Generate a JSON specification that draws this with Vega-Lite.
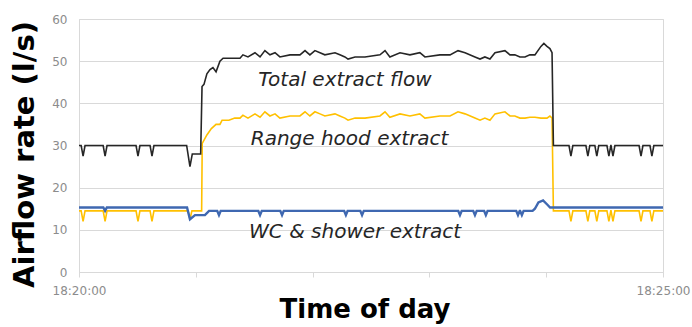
{
 "$schema": "https://vega.github.io/schema/vega-lite/v6.json",
 "width": 584, "height": 253,
 "autosize": {"type": "none"},
 "padding": {"left": 79, "top": 19, "right": 29, "bottom": 55},
 "background": "#ffffff",
 "config": {"font": "DejaVu Sans", "view": {"stroke": "#d9d9d9", "strokeWidth": 1}},
 "datasets": {
  "flows": [
   {"s":"T","t":0,"v":30},{"s":"T","t":1.1,"v":30},{"s":"T","t":2.1,"v":27.5},{"s":"T","t":3.1,"v":30},{"s":"T","t":12.4,"v":30},{"s":"T","t":13.4,"v":27.5},{"s":"T","t":14.4,"v":30},{"s":"T","t":29.3,"v":30},{"s":"T","t":30.3,"v":27.5},{"s":"T","t":31.3,"v":30},{"s":"T","t":36.5,"v":30},{"s":"T","t":37.5,"v":27.5},{"s":"T","t":38.5,"v":30},{"s":"T","t":55.3,"v":30},{"s":"T","t":57,"v":25},{"s":"T","t":58.2,"v":28},{"s":"T","t":62.5,"v":28},{"s":"T","t":63.2,"v":44},{"s":"T","t":64.2,"v":44.5},{"s":"T","t":65.7,"v":47},{"s":"T","t":67.3,"v":48},{"s":"T","t":68.8,"v":48.5},{"s":"T","t":70.4,"v":47.5},{"s":"T","t":72.4,"v":50},{"s":"T","t":74,"v":50.7},{"s":"T","t":82.7,"v":50.7},{"s":"T","t":84.2,"v":51.5},{"s":"T","t":86.8,"v":51},{"s":"T","t":90.4,"v":52},{"s":"T","t":93,"v":51},{"s":"T","t":95.5,"v":52.5},{"s":"T","t":98.1,"v":51.5},{"s":"T","t":100.7,"v":52},{"s":"T","t":103.2,"v":51},{"s":"T","t":108.4,"v":51.5},{"s":"T","t":113.5,"v":51.5},{"s":"T","t":116.1,"v":52.5},{"s":"T","t":118.6,"v":51.5},{"s":"T","t":121.2,"v":52.5},{"s":"T","t":123.8,"v":52},{"s":"T","t":126.3,"v":51.5},{"s":"T","t":131.5,"v":52},{"s":"T","t":134,"v":51.5},{"s":"T","t":136.6,"v":51},{"s":"T","t":138.2,"v":50.5},{"s":"T","t":141.8,"v":51},{"s":"T","t":146.9,"v":51},{"s":"T","t":154.6,"v":51.5},{"s":"T","t":157.2,"v":52.5},{"s":"T","t":159.7,"v":51},{"s":"T","t":164.9,"v":52},{"s":"T","t":170,"v":51.5},{"s":"T","t":175.1,"v":52},{"s":"T","t":177.7,"v":51},{"s":"T","t":185.4,"v":51.5},{"s":"T","t":190.6,"v":51.5},{"s":"T","t":194.7,"v":52.5},{"s":"T","t":198.3,"v":52},{"s":"T","t":203.4,"v":51},{"s":"T","t":206,"v":50.5},{"s":"T","t":208.5,"v":51},{"s":"T","t":211.1,"v":50.5},{"s":"T","t":213.7,"v":52},{"s":"T","t":218.8,"v":52.5},{"s":"T","t":221.4,"v":51.5},{"s":"T","t":223.9,"v":51.5},{"s":"T","t":226.5,"v":51},{"s":"T","t":229.1,"v":51},{"s":"T","t":231.6,"v":51.5},{"s":"T","t":234.2,"v":51.5},{"s":"T","t":237.3,"v":53.5},{"s":"T","t":238.8,"v":54.2},{"s":"T","t":240.4,"v":53.5},{"s":"T","t":241.9,"v":53},{"s":"T","t":243,"v":52},{"s":"T","t":243.7,"v":30},{"s":"T","t":251.7,"v":30},{"s":"T","t":252.7,"v":27.5},{"s":"T","t":253.7,"v":30},{"s":"T","t":260.4,"v":30},{"s":"T","t":261.4,"v":27.5},{"s":"T","t":262.4,"v":30},{"s":"T","t":265,"v":30},{"s":"T","t":266,"v":27.5},{"s":"T","t":267,"v":30},{"s":"T","t":271.2,"v":30},{"s":"T","t":272.2,"v":27.5},{"s":"T","t":273.2,"v":30},{"s":"T","t":273.3,"v":30},{"s":"T","t":274.3,"v":27.5},{"s":"T","t":275.3,"v":30},{"s":"T","t":287.7,"v":30},{"s":"T","t":288.7,"v":27.5},{"s":"T","t":289.7,"v":30},{"s":"T","t":293.3,"v":30},{"s":"T","t":294.3,"v":27.5},{"s":"T","t":295.3,"v":30},{"s":"T","t":300,"v":30},

   {"s":"R","t":0,"v":14.5},{"s":"R","t":1.1,"v":14.5},{"s":"R","t":2.1,"v":12},{"s":"R","t":3.1,"v":14.5},{"s":"R","t":12.4,"v":14.5},{"s":"R","t":13.4,"v":12},{"s":"R","t":14.4,"v":14.5},{"s":"R","t":29.3,"v":14.5},{"s":"R","t":30.3,"v":12},{"s":"R","t":31.3,"v":14.5},{"s":"R","t":36.5,"v":14.5},{"s":"R","t":37.5,"v":12},{"s":"R","t":38.5,"v":14.5},{"s":"R","t":56,"v":14.5},{"s":"R","t":57,"v":12.5},{"s":"R","t":58,"v":14.5},{"s":"R","t":63,"v":14.5},{"s":"R","t":63.3,"v":30.5},{"s":"R","t":65.7,"v":32.5},{"s":"R","t":68,"v":34},{"s":"R","t":70.4,"v":35},{"s":"R","t":72.4,"v":35},{"s":"R","t":73.5,"v":36},{"s":"R","t":77,"v":36},{"s":"R","t":80,"v":36.5},{"s":"R","t":82.7,"v":36.5},{"s":"R","t":84.2,"v":37.2},{"s":"R","t":86.8,"v":36.5},{"s":"R","t":90.4,"v":37.5},{"s":"R","t":93,"v":36.7},{"s":"R","t":95.5,"v":38},{"s":"R","t":98.1,"v":37},{"s":"R","t":100.7,"v":37.5},{"s":"R","t":103.2,"v":36.5},{"s":"R","t":108.4,"v":37},{"s":"R","t":113.5,"v":37},{"s":"R","t":116.1,"v":38},{"s":"R","t":118.6,"v":37},{"s":"R","t":121.2,"v":38},{"s":"R","t":123.8,"v":37.5},{"s":"R","t":126.3,"v":37},{"s":"R","t":131.5,"v":37.5},{"s":"R","t":134,"v":37},{"s":"R","t":136.6,"v":36.5},{"s":"R","t":138.2,"v":36},{"s":"R","t":141.8,"v":36.5},{"s":"R","t":146.9,"v":36.5},{"s":"R","t":154.6,"v":37},{"s":"R","t":157.2,"v":38},{"s":"R","t":159.7,"v":36.7},{"s":"R","t":164.9,"v":37.5},{"s":"R","t":170,"v":37},{"s":"R","t":175.1,"v":37.5},{"s":"R","t":177.7,"v":36.5},{"s":"R","t":185.4,"v":37},{"s":"R","t":190.6,"v":37},{"s":"R","t":194.7,"v":38},{"s":"R","t":198.3,"v":37.5},{"s":"R","t":203.4,"v":36.5},{"s":"R","t":206,"v":36},{"s":"R","t":208.5,"v":36.5},{"s":"R","t":211.1,"v":36},{"s":"R","t":213.7,"v":37.5},{"s":"R","t":218.8,"v":38},{"s":"R","t":221.4,"v":37},{"s":"R","t":223.9,"v":37},{"s":"R","t":226.5,"v":36.5},{"s":"R","t":229.1,"v":36.5},{"s":"R","t":231.6,"v":36.7},{"s":"R","t":234.2,"v":36.7},{"s":"R","t":237.3,"v":36.5},{"s":"R","t":240.4,"v":36.5},{"s":"R","t":241.9,"v":37},{"s":"R","t":243,"v":36.5},{"s":"R","t":243.7,"v":14.5},{"s":"R","t":251.7,"v":14.5},{"s":"R","t":252.7,"v":12},{"s":"R","t":253.7,"v":14.5},{"s":"R","t":260.4,"v":14.5},{"s":"R","t":261.4,"v":12},{"s":"R","t":262.4,"v":14.5},{"s":"R","t":265,"v":14.5},{"s":"R","t":266,"v":12},{"s":"R","t":267,"v":14.5},{"s":"R","t":271.2,"v":14.5},{"s":"R","t":272.2,"v":12},{"s":"R","t":273.2,"v":14.5},{"s":"R","t":273.3,"v":14.5},{"s":"R","t":274.3,"v":12},{"s":"R","t":275.3,"v":14.5},{"s":"R","t":287.7,"v":14.5},{"s":"R","t":288.7,"v":12},{"s":"R","t":289.7,"v":14.5},{"s":"R","t":293.3,"v":14.5},{"s":"R","t":294.3,"v":12},{"s":"R","t":295.3,"v":14.5},{"s":"R","t":300,"v":14.5},

   {"s":"W","t":0,"v":15.3},{"s":"W","t":12.5,"v":15.3},{"s":"W","t":13.4,"v":14.5},{"s":"W","t":14.3,"v":15.3},{"s":"W","t":55.5,"v":15.3},{"s":"W","t":57,"v":12.5},{"s":"W","t":59.6,"v":13.5},{"s":"W","t":64.7,"v":13.5},{"s":"W","t":66.8,"v":14.5},{"s":"W","t":71,"v":14.5},{"s":"W","t":71.9,"v":13.5},{"s":"W","t":72.8,"v":14.5},{"s":"W","t":92.1,"v":14.5},{"s":"W","t":93,"v":13.5},{"s":"W","t":93.9,"v":14.5},{"s":"W","t":103.4,"v":14.5},{"s":"W","t":104.3,"v":13.5},{"s":"W","t":105.2,"v":14.5},{"s":"W","t":136.2,"v":14.5},{"s":"W","t":137.1,"v":13.5},{"s":"W","t":138,"v":14.5},{"s":"W","t":144.5,"v":14.5},{"s":"W","t":145.4,"v":13.5},{"s":"W","t":146.3,"v":14.5},{"s":"W","t":194.8,"v":14.5},{"s":"W","t":195.7,"v":13.5},{"s":"W","t":196.6,"v":14.5},{"s":"W","t":202.5,"v":14.5},{"s":"W","t":203.4,"v":13.5},{"s":"W","t":204.3,"v":14.5},{"s":"W","t":208.1,"v":14.5},{"s":"W","t":209,"v":13.5},{"s":"W","t":209.9,"v":14.5},{"s":"W","t":224.6,"v":14.5},{"s":"W","t":225.5,"v":13.5},{"s":"W","t":226.4,"v":14.5},{"s":"W","t":226.6,"v":14.5},{"s":"W","t":227.5,"v":13.5},{"s":"W","t":228.4,"v":14.5},{"s":"W","t":233,"v":14.5},{"s":"W","t":234.2,"v":15},{"s":"W","t":236,"v":16.5},{"s":"W","t":238.4,"v":17},{"s":"W","t":240.5,"v":16},{"s":"W","t":242,"v":15.3},{"s":"W","t":300,"v":15.3}
  ],
  "labels": [
   {"label":"Total extract flow","t":136.6,"v":44.1},
   {"label":"Range hood extract","t":139,"v":30.1},
   {"label":"WC & shower extract","t":141.8,"v":8.1}
  ]
 },
 "encoding": {
  "x": {"field":"t","type":"quantitative","scale":{"domain":[0,300],"nice":false,"zero":false},
   "axis":{"values":[0,60,120,180,240,300],"labelExpr":"datum.value==0?'18:20:00':datum.value==300?'18:25:00':''","grid":false,"domainColor":"#d9d9d9","tickColor":"#d9d9d9","tickSize":5,"labelColor":"#8c8c8c","labelFontSize":12,"labelPadding":8,"labelFlush":false,"labelOverlap":false,"title":"Time of day","titleFontSize":26,"titleFontWeight":"bold","titleColor":"#000000","titleX":285.5,"titleY":45.7,"titleBaseline":"alphabetic","titleAlign":"center","titleLimit":1000}},
  "y": {"field":"v","type":"quantitative","scale":{"domain":[0,60],"nice":false},
   "axis":{"values":[0,10,20,30,40,50,60],"ticks":false,"domainColor":"#d9d9d9","gridColor":"#d9d9d9","labelColor":"#8c8c8c","labelFontSize":12,"labelPadding":12,"title":"Airflow rate (l/s)","titleFontSize":29,"titleFontWeight":"bold","titleColor":"#000000","titleX":-46,"titleY":135,"titleAngle":-90,"titleBaseline":"alphabetic","titleAlign":"center","titleLimit":1000}}
 },
 "layer": [
  {"data":{"name":"flows"},"transform":[{"filter":"datum.s=='R'"}],"mark":{"type":"line","color":"#FFC000","strokeWidth":1.6}},
  {"data":{"name":"flows"},"transform":[{"filter":"datum.s=='W'"}],"mark":{"type":"line","color":"#3F68B1","strokeWidth":2.4}},
  {"data":{"name":"flows"},"transform":[{"filter":"datum.s=='T'"}],"mark":{"type":"line","color":"#262626","strokeWidth":1.6}},
  {"data":{"name":"labels"},"mark":{"type":"text","font":"DejaVu Sans","fontStyle":"italic","fontSize":20,"color":"#262626","baseline":"alphabetic","align":"center"},"encoding":{"text":{"field":"label"}}}
 ]
}
